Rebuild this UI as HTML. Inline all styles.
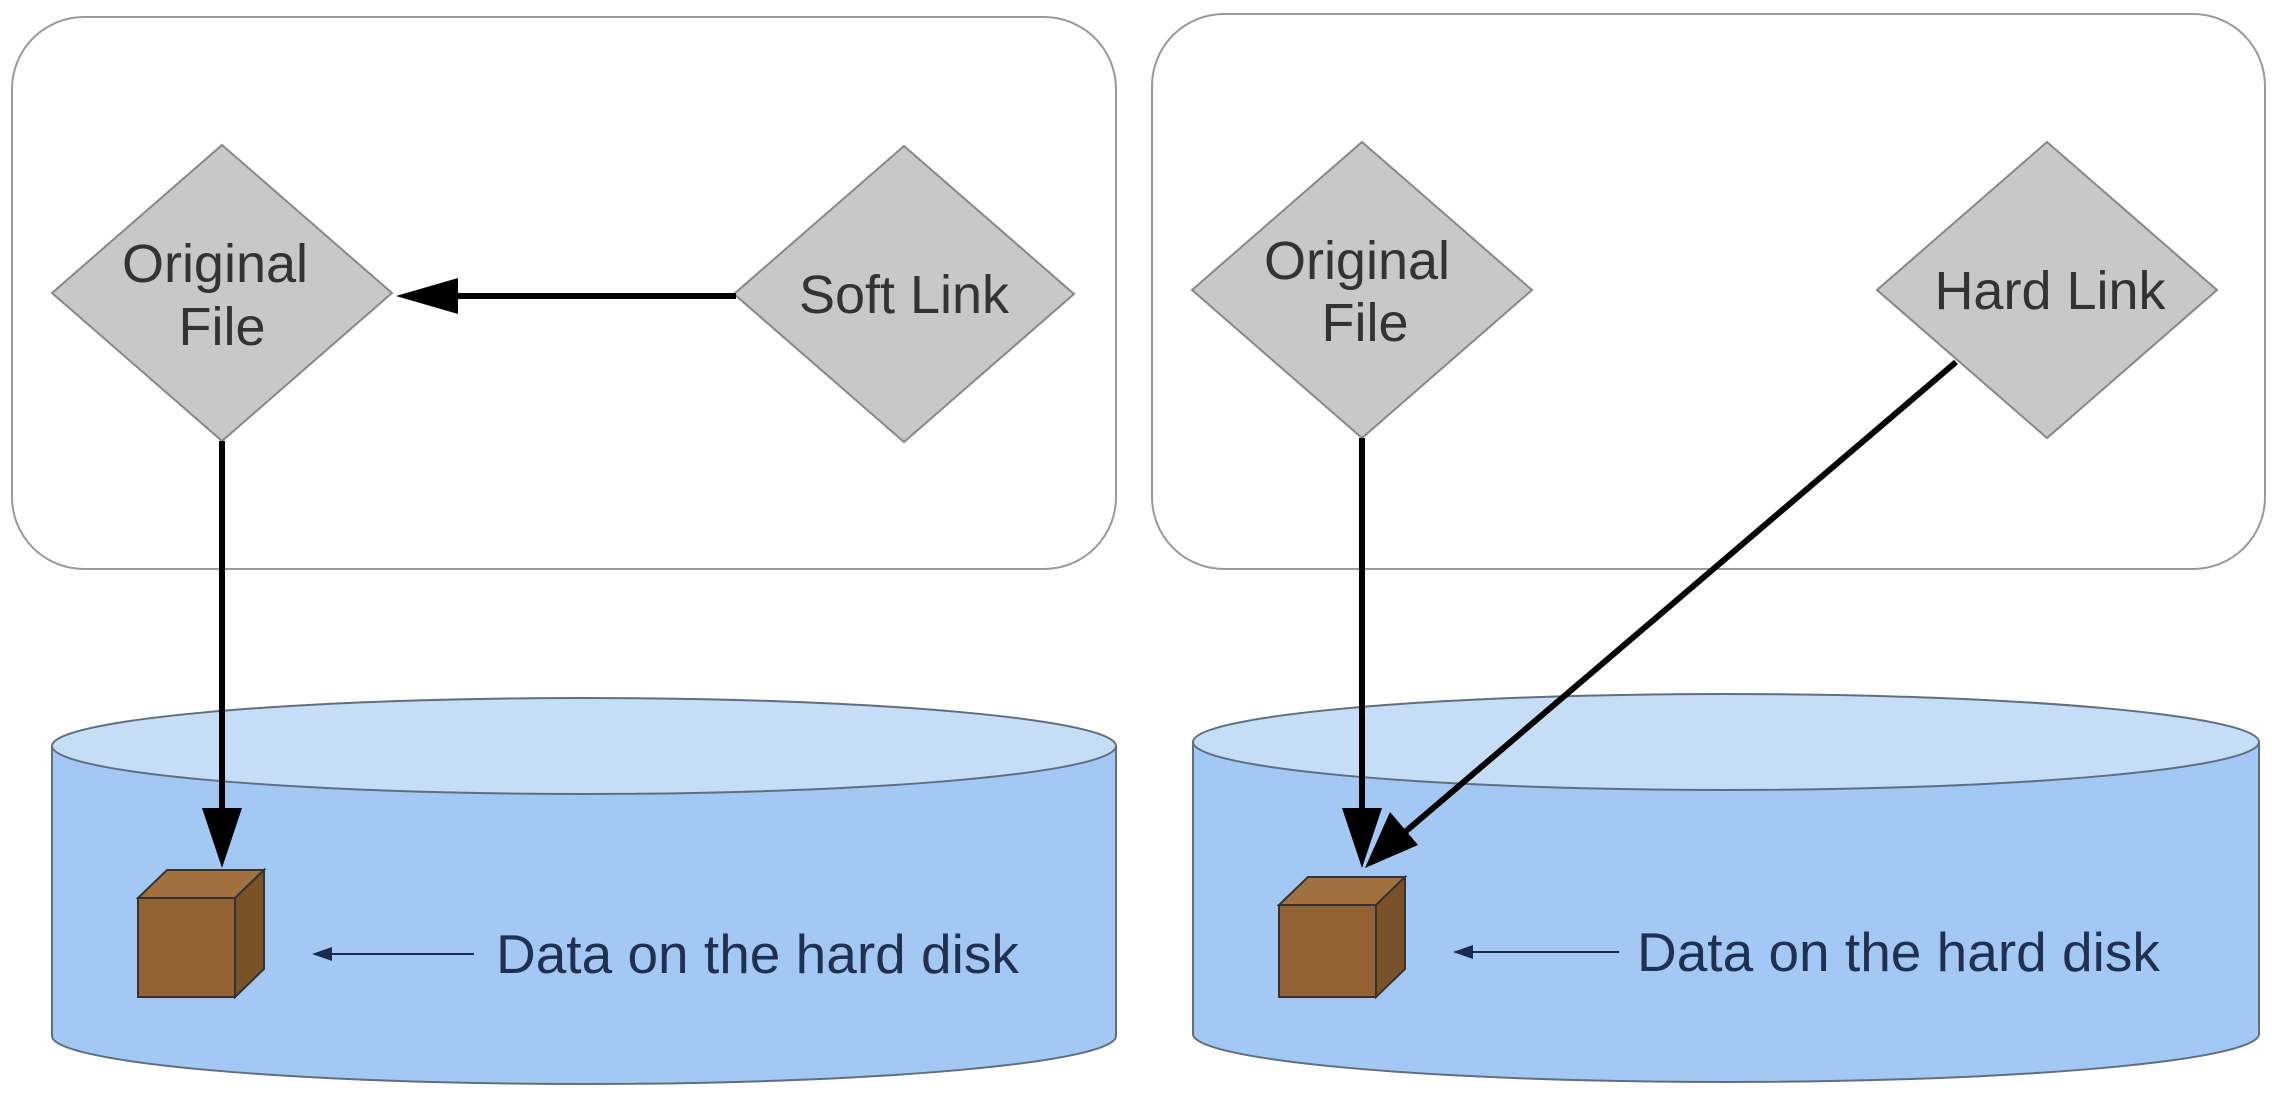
<!DOCTYPE html>
<html><head><style>html,body{margin:0;padding:0;background:#fff}</style></head>
<body>
<svg width="2272" height="1088" viewBox="0 0 2272 1088" xmlns="http://www.w3.org/2000/svg" font-family="Liberation Sans, sans-serif">
<rect x="12" y="17" width="1104" height="552" rx="72" fill="#fff" stroke="#999" stroke-width="2"/>
<rect x="1152" y="14" width="1113" height="555" rx="72" fill="#fff" stroke="#999" stroke-width="2"/>
<g stroke="#5f6f80" stroke-width="2">
<path d="M52,746 L52,1036 A532,48 0 0 0 1116,1036 L1116,746" fill="#a3c8f4"/>
<ellipse cx="584" cy="746" rx="532" ry="48" fill="#c6ddf8"/>
<path d="M1193,742 L1193,1034 A533,48 0 0 0 2259,1034 L2259,742" fill="#a3c8f4"/>
<ellipse cx="1726" cy="742" rx="533" ry="48" fill="#c6ddf8"/>
</g>
<g fill="#c8c8c8" stroke="#888" stroke-width="2">
<polygon points="222,145 392,293 222,441 52,293"/>
<polygon points="904,146 1074,294 904,442 734,294"/>
<polygon points="1362,142 1532,290 1362,438 1192,290"/>
<polygon points="2047,142 2217,290 2047,438 1877,290"/>
</g>
<g fill="#333" font-size="54" text-anchor="middle">
<text x="215" y="282">Original</text><text x="222" y="345">File</text>
<text x="904" y="313">Soft Link</text>
<text x="1357" y="279">Original</text><text x="1365" y="341">File</text>
<text x="2050" y="309">Hard Link</text>
</g>
<g stroke="#000" stroke-width="6" fill="none">
<line x1="736" y1="296" x2="440" y2="296"/>
<line x1="222" y1="441" x2="222" y2="810"/>
<line x1="1362" y1="438" x2="1362" y2="810"/>
<line x1="1956" y1="362" x2="1405" y2="832"/>
</g>
<g fill="#000">
<polygon points="396,296 458,278 458,314"/>
<polygon points="222,868 202,808 242,808"/>
<polygon points="1362,868 1342,808 1382,808"/>
<polygon points="1365,868 1390,812 1418,845"/>
</g>
<g stroke="#333" stroke-width="2">
<polygon points="138,898 167,870 264,870 235,898" fill="#a0703e"/>
<polygon points="235,898 264,870 264,969 235,997" fill="#7a522a"/>
<rect x="138" y="898" width="97" height="99" fill="#946335"/>
<polygon points="1279,905 1308,877 1405,877 1376,905" fill="#a0703e"/>
<polygon points="1376,905 1405,877 1405,969 1376,997" fill="#7a522a"/>
<rect x="1279" y="905" width="97" height="92" fill="#946335"/>
</g>
<g stroke="#1a2a4a" stroke-width="2">
<line x1="474" y1="954" x2="325" y2="954"/>
<line x1="1619" y1="952" x2="1466" y2="952"/>
</g>
<g fill="#1a2a4a">
<polygon points="312,954 332,947 332,961"/>
<polygon points="1453,952 1473,945 1473,959"/>
</g>
<g fill="#1f3050" font-size="55">
<text x="496" y="973">Data on the hard disk</text>
<text x="1637" y="971">Data on the hard disk</text>
</g>
</svg>
</body></html>
